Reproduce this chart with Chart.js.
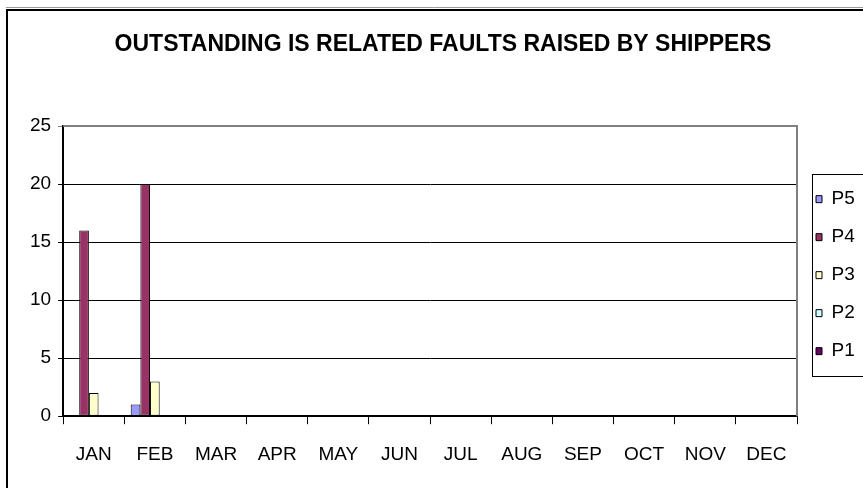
<!DOCTYPE html>
<html><head><meta charset="utf-8">
<script src="https://cdn.jsdelivr.net/npm/chart.js@4/dist/chart.umd.min.js"></script>
<style>html,body{margin:0;padding:0;background:#fff;overflow:hidden}canvas{display:block}</style>
</head><body>
<canvas id="c" width="863" height="488"></canvas>
<script>
const titleText = 'OUTSTANDING IS RELATED FAULTS RAISED BY SHIPPERS';
const months = ['JAN','FEB','MAR','APR','MAY','JUN','JUL','AUG','SEP','OCT','NOV','DEC'];
const seriesNames = ['P5','P4','P3','P2','P1'];
const p5 = [0, 1, 0, 0, 0, 0, 0, 0, 0, 0, 0, 0];
const p4 = [16, 20, 0, 0, 0, 0, 0, 0, 0, 0, 0, 0];
const p3 = [2, 3, 0, 0, 0, 0, 0, 0, 0, 0, 0, 0];
const p2 = [0, 0, 0, 0, 0, 0, 0, 0, 0, 0, 0, 0];
const p1 = [0, 0, 0, 0, 0, 0, 0, 0, 0, 0, 0, 0];
const yTicks = [0, 5, 10, 15, 20, 25];

const seriesValues = [p5, p4, p3, p2, p1];
const seriesColors = ['#9999FF', '#993366', '#FFFFCC', '#CCFFFF', '#660066'];
const FONT = '"Liberation Sans", Arial, sans-serif';

const frame = {
  id: 'frame',
  beforeDraw(chart) {
    const c = chart.ctx;
    c.save(); c.fillStyle = '#fff'; c.fillRect(0, 0, chart.width, chart.height); c.restore();
  },
  afterDraw(chart) {
    const c = chart.ctx, a = chart.chartArea, L = chart.legend;
    c.save();
    // plot area border (top/right) gray
    c.strokeStyle = '#808080'; c.lineWidth = 2;
    c.beginPath(); c.moveTo(a.left, a.top); c.lineTo(a.right, a.top); c.lineTo(a.right, a.bottom); c.stroke();
    // legend frame
    const hb = L.legendHitBoxes;
    const t = hb[0].top - 16, b = hb[hb.length - 1].top + hb[hb.length - 1].height + 15;
    c.strokeStyle = '#000'; c.lineWidth = 1;
    c.strokeRect(Math.round(L.left + 15) + 0.5, Math.round(t) + 0.5, chart.width, Math.round(b - t));
    // outer chart frame (top/left visible)
    c.strokeStyle = '#999'; c.lineWidth = 1;
    c.beginPath(); c.moveTo(6, 7.5); c.lineTo(chart.width, 7.5); c.stroke();
    c.strokeStyle = '#000'; c.lineWidth = 2;
    c.beginPath(); c.moveTo(7, chart.height); c.lineTo(7, 10); c.lineTo(chart.width, 10); c.stroke();
    c.restore();
  }
};

new Chart(document.getElementById('c'), {
  type: 'bar',
  data: {
    labels: months,
    datasets: seriesNames.map((n, i) => ({
      label: n,
      data: seriesValues[i],
      backgroundColor: seriesColors[i],
      borderColor: '#000',
      borderWidth: 1,
      borderSkipped: false,
      categoryPercentage: 0.79,
      barPercentage: 1
    }))
  },
  options: {
    responsive: false,
    animation: false,
    devicePixelRatio: 1,
    layout: { padding: { top: 0, left: 23, right: 0, bottom: 3 } },
    plugins: {
      tooltip: { enabled: false },
      title: {
        display: true, text: titleText, color: '#000',
        font: { family: FONT, size: 23, weight: 'bold' },
        padding: { top: 31, bottom: 67.5 }
      },
      legend: {
        position: 'right',
        align: 'center',
        fullSize: false,
        maxWidth: 66,
        title: { display: true, text: ' ', font: { size: 4, lineHeight: 1 }, padding: 2 },
        labels: {
          color: '#000',
          font: { family: FONT, size: 19, lineHeight: 1 },
          boxWidth: 6, boxHeight: 7, padding: 19
        }
      }
    },
    scales: {
      x: {
        grid: { display: true, drawOnChartArea: false, drawTicks: true, tickLength: 8, color: '#000', offset: true },
        border: { display: true, color: '#000', width: 2 },
        ticks: { color: '#000', font: { family: FONT, size: 19 }, padding: 19, maxRotation: 0, autoSkip: false }
      },
      y: {
        min: yTicks[0], max: yTicks[yTicks.length - 1],
        afterBuildTicks: s => { s.ticks = yTicks.map(v => ({ value: v })); },
        grid: {
          color: ctx => (ctx.tick && ctx.tick.value === yTicks[yTicks.length - 1]) ? '#808080' : '#000',
          lineWidth: 1, tickLength: 5, drawTicks: true
        },
        border: { display: true, color: '#000', width: 2 },
        ticks: { color: '#000', font: { family: FONT, size: 19 }, padding: 7 }
      }
    }
  },
  plugins: [frame]
});
</script>
</body></html>
